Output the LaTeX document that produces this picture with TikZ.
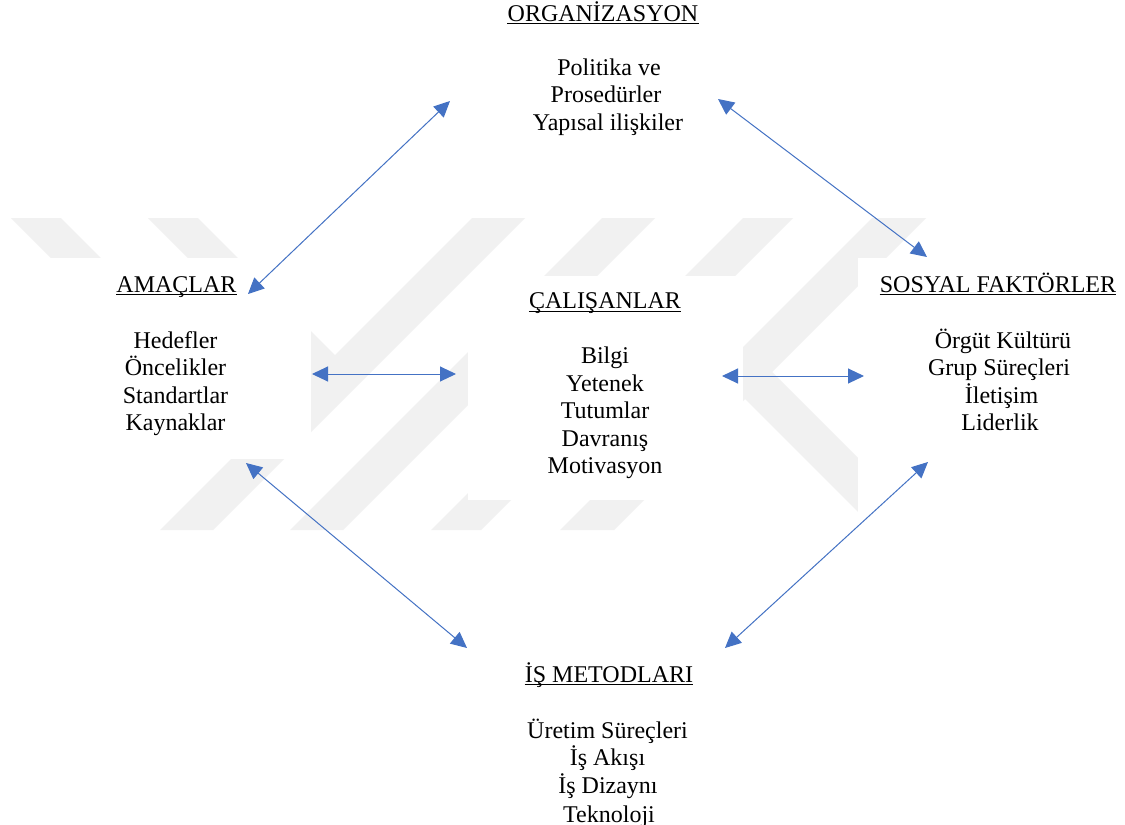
\documentclass[tikz,border=0pt]{standalone}
\usepackage{fontspec}
\setmainfont{Liberation Serif}
\usetikzlibrary{arrows.meta}
\definecolor{arrowblue}{HTML}{4472C4}
\definecolor{wmgray}{HTML}{F1F1F1}
\begin{document}
\begin{tikzpicture}[x=1pt,y=-1pt,
  conn/.style={draw=arrowblue, line width=1pt,
    {Triangle[length=16pt,width=15pt,fill=arrowblue]}-{Triangle[length=16pt,width=15pt,fill=arrowblue]}},
  txt/.style={anchor=base, inner sep=0pt, font=\fontsize{24}{27.5}\selectfont},
  ulin/.style={draw=black, line width=1.5pt},
  wm/.style={fill=wmgray, draw=none},
  blank/.style={fill=white, draw=none}]
\useasboundingbox (0,0) rectangle (1125,825);
\fill[white] (0,0) rectangle (1125,825);
% watermark
\begin{scope}
  \clip (0,218) rectangle (1125,530);
  \fill[wm] (11,218) -- (61,218) -- (161,318) -- (111,318) -- cycle;
  \fill[wm] (148,218) -- (198,218) -- (335,355) -- (336.5,406.5) -- cycle;
  \fill[wm] (472,218) -- (525,218) -- (213,530) -- (160,530) -- cycle;
  \fill[wm] (602,218) -- (655,218) -- (343,530) -- (290,530) -- cycle;
  \fill[wm] (743,218) -- (793,218) -- (481,530) -- (431,530) -- cycle;
  \fill[wm] (872,218) -- (926,218) -- (614,530) -- (560,530) -- cycle;
  \fill[wm] (745,345) -- (930,530) -- (876,530) -- (745,399) -- cycle;
\end{scope}
\fill[blank] (0,258) rectangle (311,459);
\fill[blank] (468,276) rectangle (743,500);
\fill[blank] (858,258) rectangle (1125,535);

% ORGANIZASYON
\node[txt] (org) at (603,21) {ORGANİZASYON};
\draw[ulin] ([yshift=-2.4pt]org.base west) -- ([yshift=-2.4pt]org.base east);
\node[txt] (org1) at (609,75) {Politika ve};
\node[txt] (org2) at (606,102.5) {Prosedürler};
\node[txt] (org3) at (608,130) {Yapısal ilişkiler};

% AMACLAR
\node[txt] (amac) at (176.5,292) {AMAÇLAR};
\draw[ulin] ([yshift=-2.4pt]amac.base west) -- ([yshift=-2.4pt]amac.base east);
\node[txt] (amac1) at (175.5,348) {Hedefler};
\node[txt] (amac2) at (175.5,375.5) {Öncelikler};
\node[txt] (amac3) at (175.5,403) {Standartlar};
\node[txt] (amac4) at (175.5,430.5) {Kaynaklar};

% CALISANLAR
\node[txt] (cal) at (605,308) {ÇALIŞANLAR};
\draw[ulin] ([yshift=-3.4pt]cal.base west) -- ([yshift=-3.4pt]cal.base east);
\node[txt] (cal1) at (605,363.5) {Bilgi};
\node[txt] (cal2) at (605,391) {Yetenek};
\node[txt] (cal3) at (605,418.5) {Tutumlar};
\node[txt] (cal4) at (605,446) {Davranış};
\node[txt] (cal5) at (605,473.5) {Motivasyon};

% SOSYAL FAKTORLER
\node[txt] (sos) at (998,292) {SOSYAL FAKTÖRLER};
\draw[ulin] ([yshift=-2.4pt]sos.base west) -- ([yshift=-2.4pt]sos.base east);
\node[txt] (sos1) at (1003,348) {Örgüt Kültürü};
\node[txt] (sos2) at (999,375.5) {Grup Süreçleri};
\node[txt] (sos3) at (1001.5,403) {İletişim};
\node[txt] (sos4) at (1000,430.5) {Liderlik};

% IS METODLARI
\node[txt] (is) at (609,682) {İŞ METODLARI};
\draw[ulin] ([yshift=-2.4pt]is.base west) -- ([yshift=-2.4pt]is.base east);
\node[txt] (is1) at (607.5,738) {Üretim Süreçleri};
\node[txt] (is2) at (607.5,765.5) {İş Akışı};
\node[txt] (is3) at (608,793) {İş Dizaynı};
\node[txt] (is4) at (609,822) {Teknoloji};

% connector end points
\coordinate (amacNE) at (248,294);
\coordinate (orgSW) at (450,101);
\coordinate (orgSE) at (718,99);
\coordinate (sosNW) at (927,257);
\coordinate (amacSE) at (246,463);
\coordinate (isNW) at (467,648);
\coordinate (sosSW) at (928,462);
\coordinate (isNE) at (725,648);
\coordinate (amacE) at (312,374);
\coordinate (calW) at (456,374);
\coordinate (calE) at (722,376);
\coordinate (sosW) at (864,376);

\draw[conn] (amacNE) -- (orgSW);
\draw[conn] (orgSE) -- (sosNW);
\draw[conn] (amacSE) -- (isNW);
\draw[conn] (sosSW) -- (isNE);
\draw[conn] (amacE) -- (calW);
\draw[conn] (calE) -- (sosW);
\end{tikzpicture}
\end{document}
